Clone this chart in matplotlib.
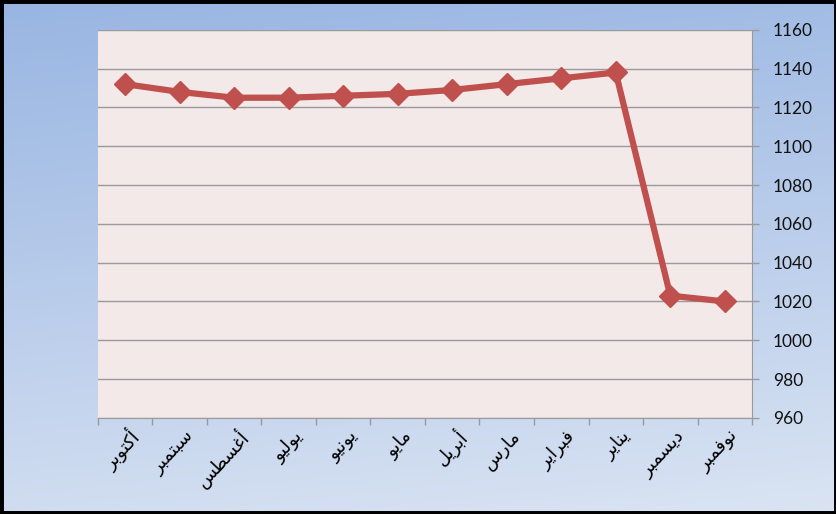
import numpy as np
import matplotlib as mpl
mpl.use('agg')
import matplotlib.pyplot as plt
from matplotlib.patches import Rectangle

plt.rcParams['font.family'] = ['Lato', 'DejaVu Sans']

months = ['أكتوبر', 'سبتمبر', 'أغسطس', 'يوليو', 'يونيو', 'مايو',
          'أبريل', 'مارس', 'فبراير', 'يناير', 'ديسمبر', 'نوفمبر']
values = [1132, 1128, 1125, 1125, 1126, 1127, 1129, 1132, 1135, 1138, 1023, 1020]
yticks = list(range(960, 1161, 20))

# arabic presentation forms: isolated, final, initial, medial
FORMS = {
    'ا': (0xFE8D, 0xFE8E, None, None), 'أ': (0xFE83, 0xFE84, None, None),
    'ب': (0xFE8F, 0xFE90, 0xFE91, 0xFE92), 'ت': (0xFE95, 0xFE96, 0xFE97, 0xFE98),
    'د': (0xFEA9, 0xFEAA, None, None), 'ر': (0xFEAD, 0xFEAE, None, None),
    'س': (0xFEB1, 0xFEB2, 0xFEB3, 0xFEB4), 'ط': (0xFEC1, 0xFEC2, 0xFEC3, 0xFEC4),
    'غ': (0xFECD, 0xFECE, 0xFECF, 0xFED0), 'ف': (0xFED1, 0xFED2, 0xFED3, 0xFED4),
    'ك': (0xFED9, 0xFEDA, 0xFEDB, 0xFEDC), 'ل': (0xFEDD, 0xFEDE, 0xFEDF, 0xFEE0),
    'م': (0xFEE1, 0xFEE2, 0xFEE3, 0xFEE4), 'ن': (0xFEE5, 0xFEE6, 0xFEE7, 0xFEE8),
    'و': (0xFEED, 0xFEEE, None, None), 'ي': (0xFEF1, 0xFEF2, 0xFEF3, 0xFEF4),
}


def shape(word):
    out = []
    for i, ch in enumerate(word):
        f = FORMS[ch]
        prev = i > 0 and FORMS[word[i - 1]][2] is not None
        nxt = i < len(word) - 1 and f[2] is not None
        if prev and nxt:
            c = f[3]
        elif prev:
            c = f[1]
        elif nxt:
            c = f[2]
        else:
            c = f[0]
        out.append(chr(c))
    return ''.join(reversed(out))


fig = plt.figure(figsize=(8.37, 5.14), dpi=100)

# background gradient
bg = fig.add_axes([0, 0, 1, 1], zorder=-10)
gy = np.linspace(0, 1, 256)[:, None]
gx = np.linspace(0, 1, 256)[None, :]
t = np.clip(0.85 * gy + 0.15 * gx, 0, 1)
top = np.array([152, 181, 226]) / 255
bot = np.array([218, 228, 243]) / 255
img = top[None, None, :] * (1 - t[..., None]) + bot[None, None, :] * t[..., None]
bg.imshow(img, aspect='auto', extent=[0, 1, 0, 1], origin='upper')
bg.set_axis_off()
fig.patches.append(Rectangle((0, 0), 1, 1, transform=fig.transFigure,
                             fill=False, edgecolor='black', linewidth=5))

ax = fig.add_axes([0.117, 0.187, 0.7815, 0.755])
ax.set_facecolor('#F2E9E8')
x = np.arange(len(months))
ax.plot(x, values, color='#C0504D', lw=4.5, marker='D', markersize=11,
        markeredgecolor='#C0504D', zorder=3)

ax.set_xlim(-0.5, len(months) - 0.5)
ax.set_ylim(960, 1160)
ax.set_yticks(yticks)
ax.yaxis.tick_right()
ax.grid(axis='y', color='#9A9A9A', lw=1.0)
ax.set_axisbelow(True)

ax.set_xticks(np.arange(len(months) + 1) - 0.5)
ax.set_xticklabels([])
for i, m in enumerate(months):
    ax.annotate(shape(m), xy=(i, 960), xycoords='data', xytext=(8, -11),
                textcoords='offset points', rotation=47, ha='right', va='center',
                rotation_mode='anchor', fontsize=13, family='DejaVu Sans')

for s in ['top', 'left']:
    ax.spines[s].set_visible(False)
for s in ['bottom', 'right']:
    ax.spines[s].set_color('#9A9A9A')
ax.tick_params(axis='both', color='#9A9A9A', length=5, width=1)
ax.tick_params(axis='y', labelsize=12.5, pad=10, labelcolor='#111111')

plt.savefig('out.png', dpi=100)
